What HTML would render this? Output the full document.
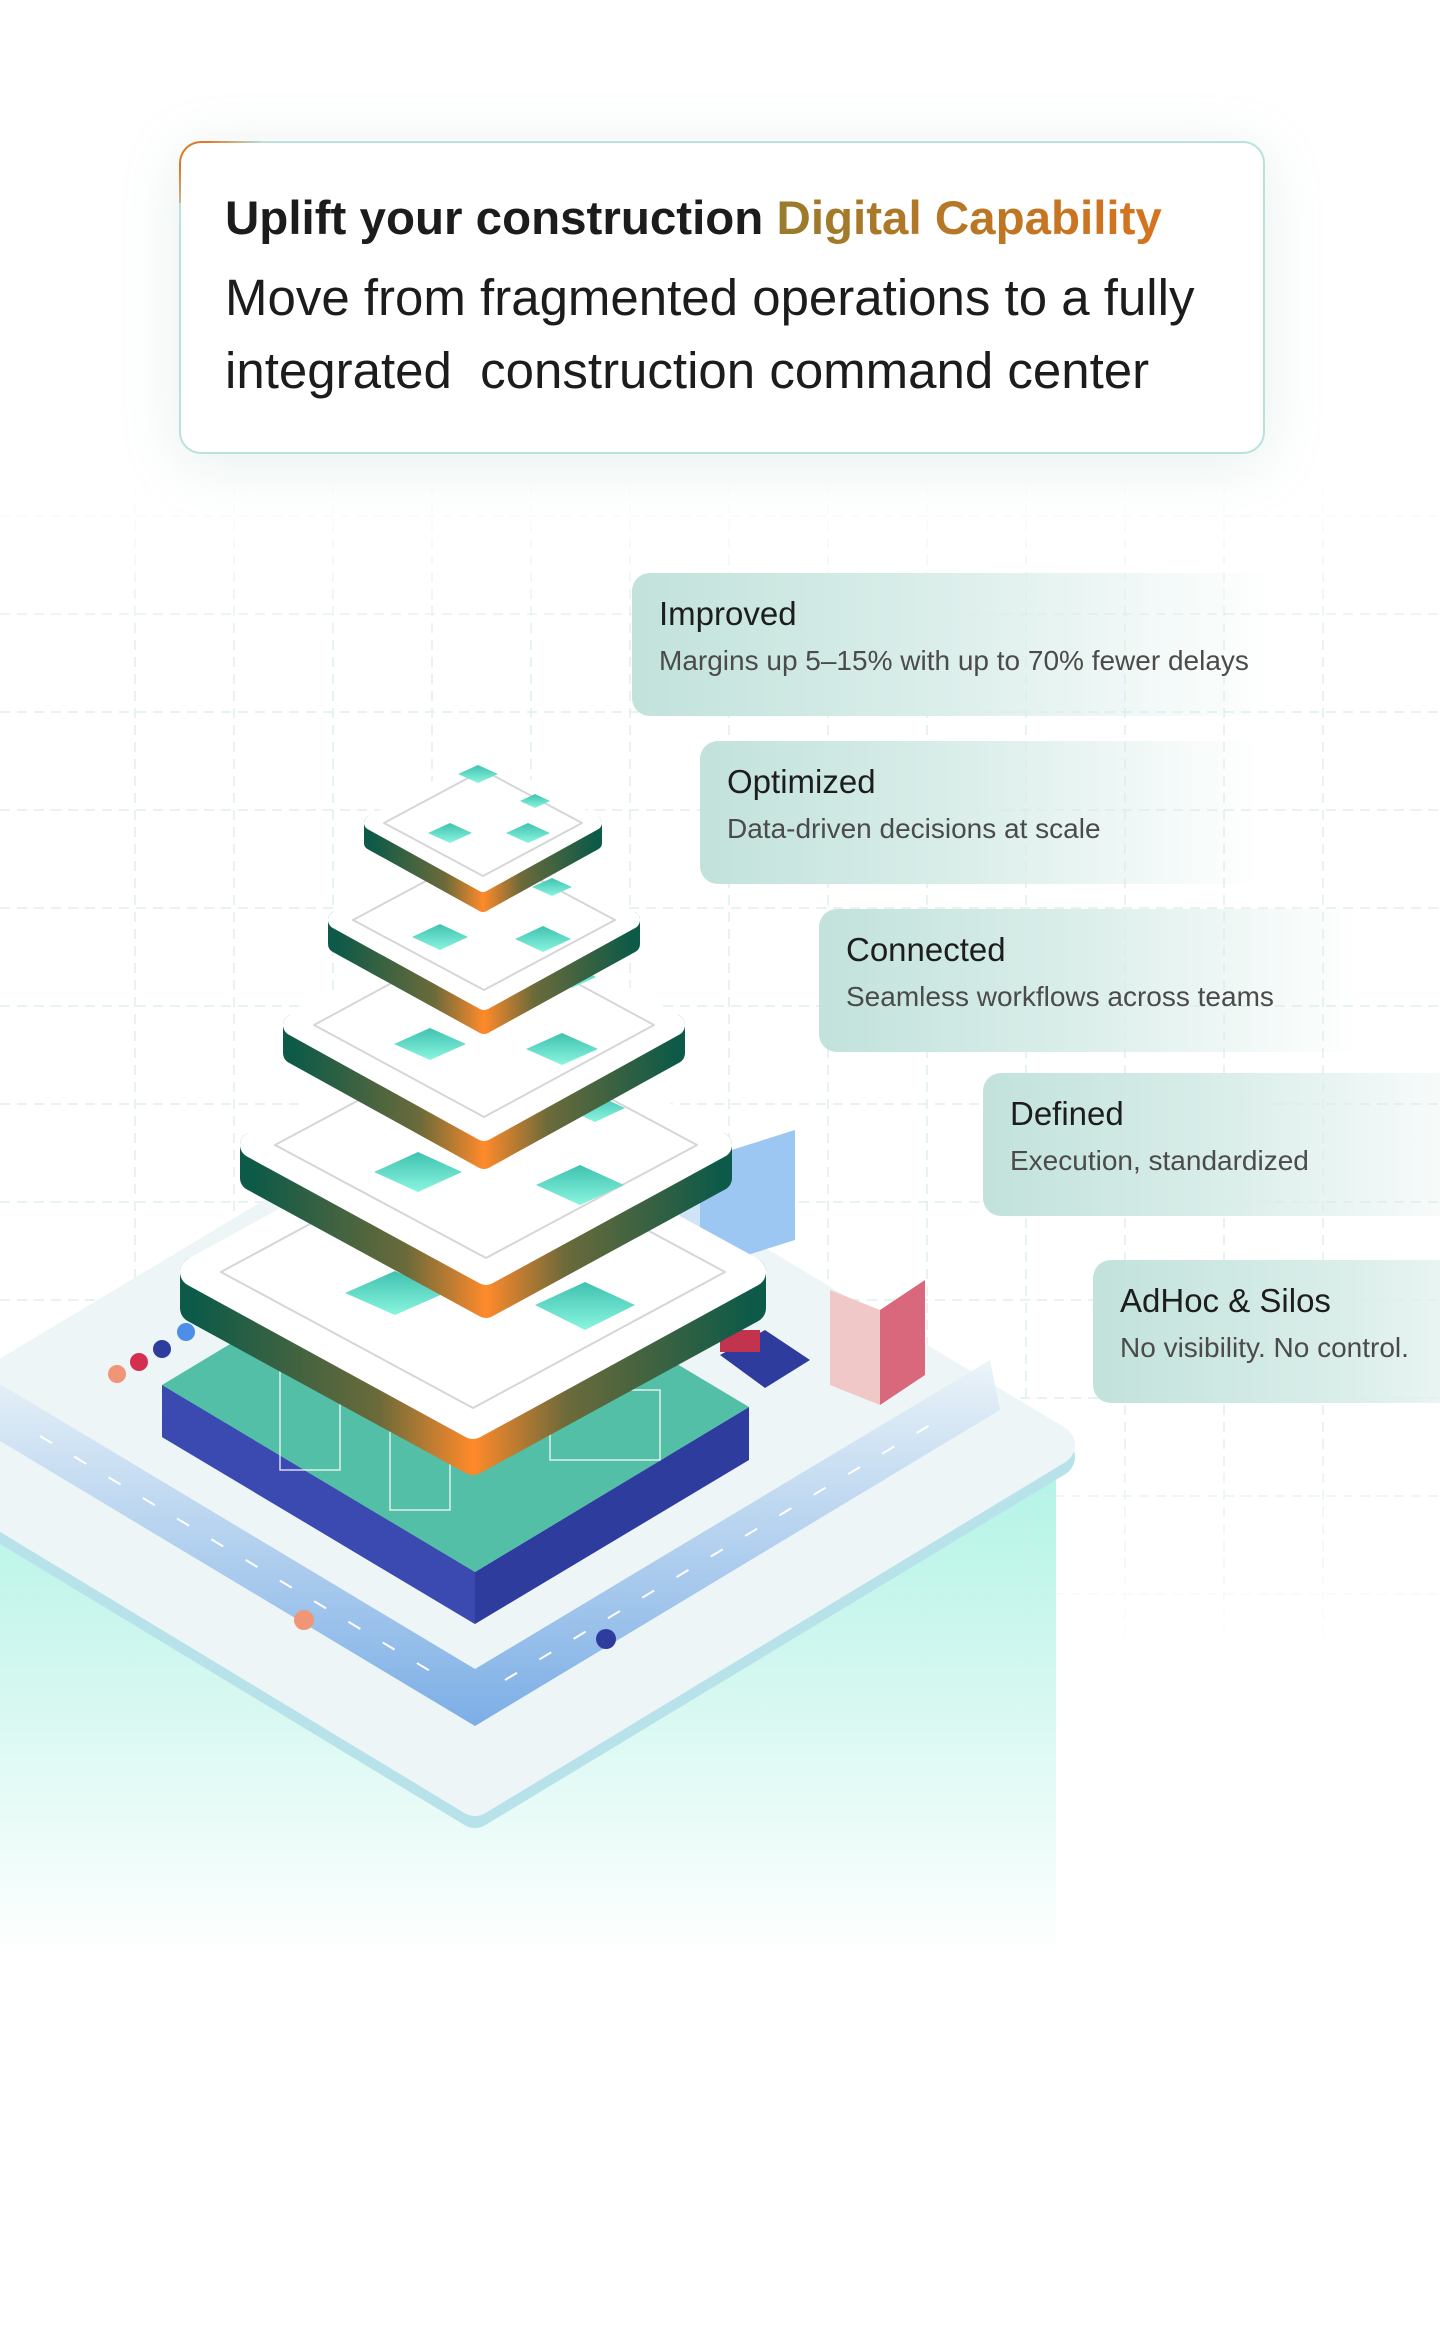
<!DOCTYPE html>
<html><head><meta charset="utf-8"><style>
html,body{margin:0;padding:0;background:#fff;}
body{width:1440px;height:2347px;position:relative;overflow:hidden;font-family:"Liberation Sans",sans-serif;}
svg.bg{position:absolute;left:0;top:0;}
.card{position:absolute;left:179px;top:141px;width:1086px;height:313px;border:2.5px solid #b9e2dc;border-radius:22px;background:#fff;box-shadow:0 10px 60px rgba(120,170,160,0.18);box-sizing:border-box;}
.card:before{content:"";position:absolute;left:-2.5px;top:-2.5px;width:80px;height:60px;border-top:2.5px solid #e07a22;border-left:2.5px solid #e07a22;border-top-left-radius:22px;-webkit-mask:linear-gradient(135deg,#000 20%,transparent 60%);mask:linear-gradient(135deg,#000 20%,transparent 60%);}
.t{position:absolute;left:44px;white-space:nowrap;color:#1c1c1c;font-size:51px;}
.t1{top:48px;font-weight:bold;font-size:47.5px;}
.gold{background:linear-gradient(90deg,#9a7b2c,#d7731e);-webkit-background-clip:text;background-clip:text;color:transparent;}
.t2{top:125px;}
.t3{top:198px;}
.lab{position:absolute;height:143px;border-radius:18px 0 0 18px;background:linear-gradient(90deg,#c2e2db 0%,#d9ede9 45%,rgba(255,255,255,0) 100%);}
.lab .h{position:absolute;left:27px;top:22px;font-size:33px;color:#1d1d1d;white-space:nowrap;}
.lab .s{position:absolute;left:27px;top:72px;font-size:28px;color:#4b4b4b;white-space:nowrap;}
</style></head><body>
<svg class="bg" width="1440" height="2347" viewBox="0 0 1440 2347">
<defs>
<linearGradient id="mint" x1="0" y1="0" x2="0" y2="1"><stop offset="0" stop-color="#aef3e4"/><stop offset="0.5" stop-color="#d6f8f1"/><stop offset="1" stop-color="#ffffff"/></linearGradient>
<linearGradient id="side" x1="0" y1="0" x2="1" y2="0"><stop offset="0" stop-color="#0d5a48"/><stop offset="0.33" stop-color="#6b6a3a"/><stop offset="0.5" stop-color="#ff8a2a"/><stop offset="0.67" stop-color="#6b6a3a"/><stop offset="1" stop-color="#0d5a48"/></linearGradient>
<linearGradient id="teal" x1="0" y1="0" x2="0" y2="1"><stop offset="0" stop-color="#3fc2b0"/><stop offset="1" stop-color="#8af5df"/></linearGradient>
<linearGradient id="road" x1="0" y1="0" x2="0" y2="1"><stop offset="0" stop-color="#eaf3f8"/><stop offset="1" stop-color="#6fa6e4"/></linearGradient>
<linearGradient id="gridfade" x1="0" y1="0" x2="0" y2="1"><stop offset="0" stop-color="#fff" stop-opacity="0"/><stop offset="0.15" stop-color="#fff" stop-opacity="1"/><stop offset="0.8" stop-color="#fff" stop-opacity="1"/><stop offset="1" stop-color="#fff" stop-opacity="0"/></linearGradient>
<mask id="gm"><rect x="0" y="470" width="1440" height="1200" fill="url(#gridfade)"/></mask>
</defs>
<rect x="0" y="1437" width="1056" height="520" fill="url(#mint)"/>
<g mask="url(#gm)" stroke="#d8ece8" stroke-width="1.5" stroke-dasharray="10 7" fill="none" opacity="0.8">
<path d="M135 470V1670M234 470V1670M333 470V1670M432 470V1670M531 470V1670M630 470V1670M729 470V1670M828 470V1670M927 470V1670M1026 470V1670M1125 470V1670M1224 470V1670M1323 470V1670"/>
<path d="M0 516H1440M0 614H1440M0 712H1440M0 810H1440M0 908H1440M0 1006H1440M0 1104H1440M0 1202H1440M0 1300H1440M0 1398H1440M0 1496H1440M0 1594H1440"/>
</g>
<!-- platform -->
<polygon points="475,1109 1055,1457 475,1808 -105,1457" fill="#b8e2ea" stroke="#b8e2ea" stroke-width="40" stroke-linejoin="round"/>
<polygon points="475,1097 1055,1445 475,1796 -105,1445" fill="#eef5f7" stroke="#eef5f7" stroke-width="40" stroke-linejoin="round"/>
<path d="M0 1384 L475 1669 L990 1360 L1000 1410 L475 1726 L0 1441 Z" fill="url(#road)" opacity="0.9"/>
<path d="M40 1436 L445 1680 M505 1680 L930 1425" stroke="#fff" stroke-width="2" stroke-dasharray="14 26"/>
<!-- fence/building -->
<polygon points="162,1385 475,1572 749,1407 749,1460 475,1624 162,1437" fill="#2e3c9e"/>
<polygon points="162,1385 475,1572 475,1624 162,1437" fill="#3b4ab0"/>
<polygon points="162,1385 436,1220 749,1407 475,1572" fill="#52bfa6"/>
<g stroke="#fff" stroke-width="1.5" fill="none" opacity="0.8"><rect x="280" y="1340" width="60" height="130"/><rect x="390" y="1380" width="60" height="130"/><rect x="550" y="1390" width="110" height="70"/></g>
<!-- side buildings -->
<polygon points="700,1160 795,1130 795,1240 700,1270" fill="#9cc7f2"/>
<polygon points="680,1150 700,1160 700,1270 680,1260" fill="#cfe4f7"/>
<polygon points="830,1290 880,1310 880,1405 830,1385" fill="#f0c8c8"/>
<polygon points="880,1310 925,1280 925,1375 880,1405" fill="#d9687d"/>
<polygon points="720,1355 765,1330 810,1360 765,1388" fill="#2e3c9e"/>
<rect x="720" y="1330" width="40" height="22" fill="#c2334e"/>
<!-- cars -->
<g><circle cx="117" cy="1374" r="9" fill="#f19577"/><circle cx="139" cy="1362" r="9" fill="#d52f4f"/><circle cx="162" cy="1349" r="9" fill="#2e3c9e"/><circle cx="186" cy="1332" r="9" fill="#4d8ee8"/><circle cx="304" cy="1620" r="10" fill="#f19577"/><circle cx="606" cy="1639" r="10" fill="#2e3c9e"/></g>
<!-- layers -->
<g stroke-linejoin="round">
<g><polygon points="195,1272 473,1424 751,1272 751,1308 473,1460 195,1308" fill="url(#side)" stroke="url(#side)" stroke-width="30"/>
<polygon points="473,1120 751,1272 473,1424 195,1272" fill="#fff" stroke="#fff" stroke-width="30"/>
<polygon points="473,1136 725,1272 473,1408 221,1272" fill="none" stroke="#d6d6d6" stroke-width="2"/>
<polygon points="395,1315 445,1293 395,1271 345,1293" fill="url(#teal)"/><polygon points="585,1330 635,1305 585,1282 535,1305" fill="url(#teal)"/></g>
<g><polygon points="253,1145 486,1272 719,1145 719,1178 486,1305 253,1178" fill="url(#side)" stroke="url(#side)" stroke-width="26"/>
<polygon points="486,1018 719,1145 486,1272 253,1145" fill="#fff" stroke="#fff" stroke-width="26"/>
<polygon points="486,1032 697,1145 486,1258 275,1145" fill="none" stroke="#d6d6d6" stroke-width="2"/>
<polygon points="418,1192 462,1172 418,1152 374,1172" fill="url(#teal)"/><polygon points="580,1205 624,1185 580,1165 536,1185" fill="url(#teal)"/><polygon points="595,1122 625,1108 595,1094 565,1108" fill="url(#teal)"/></g>
<g><polygon points="294,1025 484,1130 674,1025 674,1053 484,1158 294,1053" fill="url(#side)" stroke="url(#side)" stroke-width="22"/>
<polygon points="484,920 674,1025 484,1130 294,1025" fill="#fff" stroke="#fff" stroke-width="22"/>
<polygon points="484,933 654,1025 484,1117 314,1025" fill="none" stroke="#d6d6d6" stroke-width="2"/>
<polygon points="430,1060 466,1044 430,1028 394,1044" fill="url(#teal)"/><polygon points="562,1065 598,1049 562,1033 526,1049" fill="url(#teal)"/><polygon points="572,988 596,977 572,966 548,977" fill="url(#teal)"/></g>
<g><polygon points="337,920 484,1001 631,920 631,944 484,1025 337,944" fill="url(#side)" stroke="url(#side)" stroke-width="18"/>
<polygon points="484,839 631,920 484,1001 337,920" fill="#fff" stroke="#fff" stroke-width="18"/>
<polygon points="484,850 615,920 484,990 353,920" fill="none" stroke="#d6d6d6" stroke-width="2"/>
<polygon points="440,950 468,937 440,924 412,937" fill="url(#teal)"/><polygon points="543,952 571,939 543,926 515,939" fill="url(#teal)"/><polygon points="552,896 572,887 552,878 532,887" fill="url(#teal)"/></g>
<g><polygon points="371,823 483,885 595,823 595,843 483,905 371,843" fill="url(#side)" stroke="url(#side)" stroke-width="14"/>
<polygon points="483,761 595,823 483,885 371,823" fill="#fff" stroke="#fff" stroke-width="14"/>
<polygon points="483,770 582,823 483,876 384,823" fill="none" stroke="#d6d6d6" stroke-width="2"/>
<polygon points="450,843 472,833 450,823 428,833" fill="url(#teal)"/><polygon points="528,843 550,833 528,823 506,833" fill="url(#teal)"/><polygon points="478,783 498,774 478,765 458,774" fill="url(#teal)"/><polygon points="535,808 550,801 535,794 520,801" fill="url(#teal)"/></g>
</g>
</svg>

<div class="card">
<div class="t t1">Uplift your construction <span class="gold">Digital Capability</span></div>
<div class="t t2">Move from fragmented operations to a fully</div>
<div class="t t3">integrated&nbsp; construction command center</div>
</div>

<div class="lab" style="left:632px;top:573px;width:640px;"><div class="h">Improved</div><div class="s">Margins up 5–15% with up to 70% fewer delays</div></div>
<div class="lab" style="left:700px;top:741px;width:560px;"><div class="h">Optimized</div><div class="s">Data-driven decisions at scale</div></div>
<div class="lab" style="left:819px;top:909px;width:540px;"><div class="h">Connected</div><div class="s">Seamless workflows across teams</div></div>
<div class="lab" style="left:983px;top:1073px;width:520px;"><div class="h">Defined</div><div class="s">Execution, standardized</div></div>
<div class="lab" style="left:1093px;top:1260px;width:400px;background:linear-gradient(90deg,#c2e2db 0%,#d9ede9 60%,rgba(230,243,240,0.6) 100%);"><div class="h">AdHoc &amp; Silos</div><div class="s">No visibility. No control.</div></div>
</body></html>
